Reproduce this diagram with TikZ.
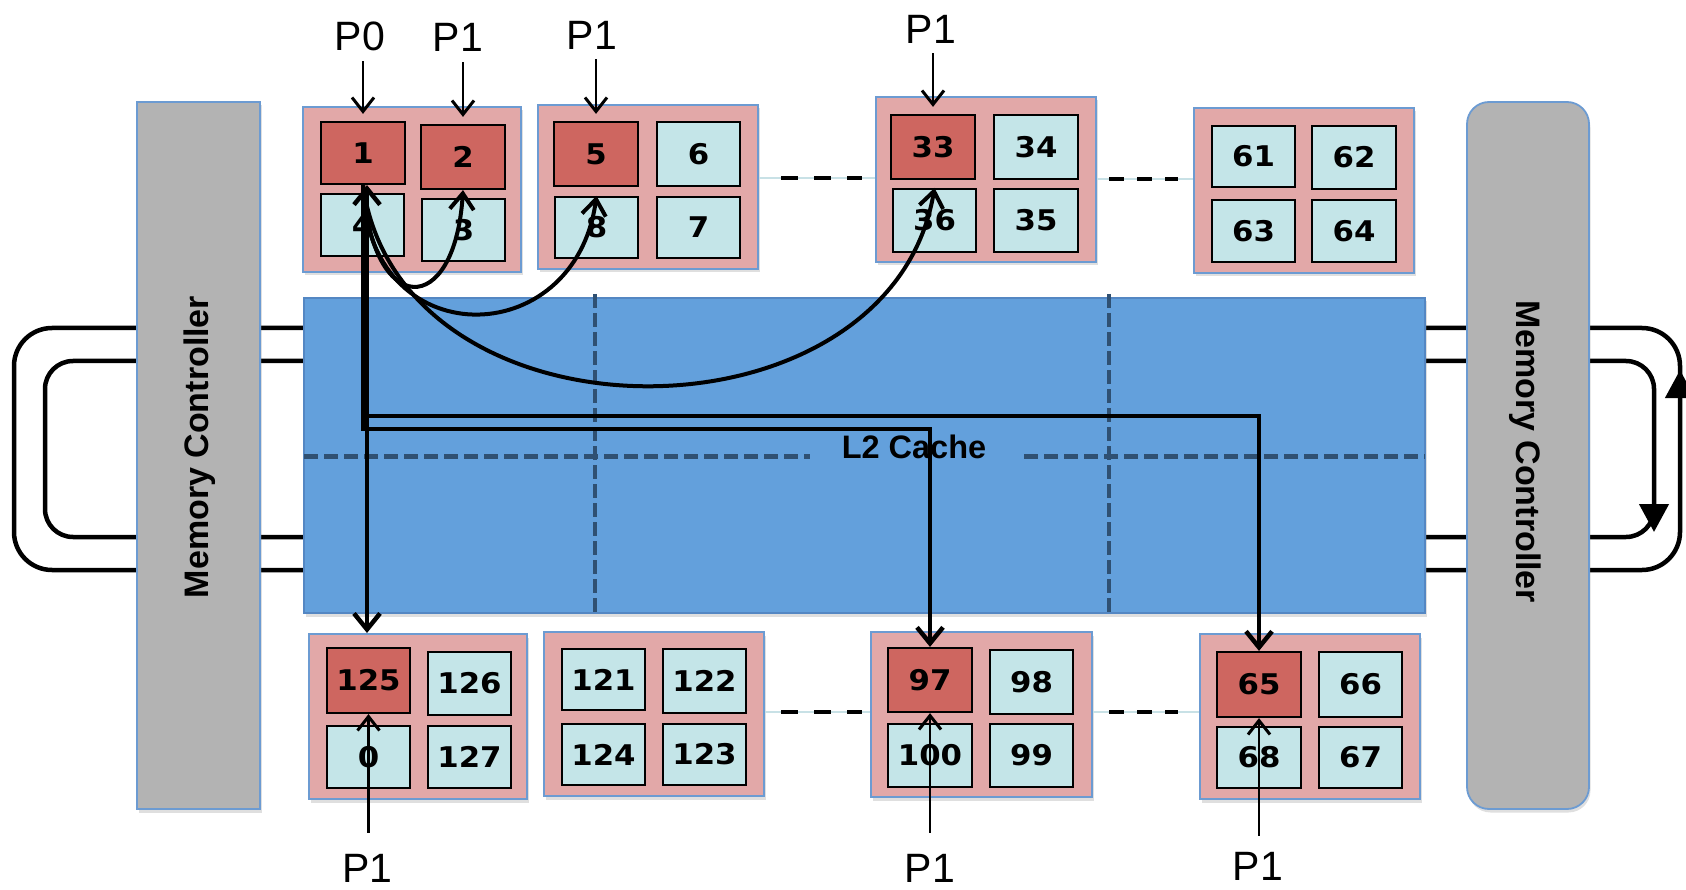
\documentclass[tikz,border=0pt]{standalone}
\usepackage{fontspec}
\setmainfont{Liberation Sans}
\newfontfamily\numfont{DejaVu Sans}[FakeStretch=1.08]
\usetikzlibrary{arrows.meta,shadows,calc}

\definecolor{l2blue}{RGB}{99,160,220}
\definecolor{l2edge}{RGB}{84,135,195}
\definecolor{gridline}{RGB}{47,80,114}
\definecolor{tilepink}{RGB}{226,168,168}
\definecolor{tileedge}{RGB}{108,155,210}
\definecolor{cellred}{RGB}{206,102,96}
\definecolor{cellcyan}{RGB}{196,229,232}
\definecolor{mcgray}{RGB}{179,179,179}
\definecolor{faint}{RGB}{200,225,230}

\tikzset{
  ring/.style={line width=4.5pt, draw=black},
  ringtip/.style={line width=4.5pt, -{Triangle[length=28pt,width=29pt]}},
  boxshadow/.style={drop shadow={opacity=0.25, shadow xshift=1.5pt, shadow yshift=-3.5pt}},
  mcbox/.style={draw=tileedge, line width=1.8pt, fill=mcgray, inner sep=0pt, boxshadow},
  mctext/.style={inner sep=0pt, font=\bfseries\fontsize{34}{40}\selectfont},
  l2box/.style={draw=l2edge, line width=1.5pt, fill=l2blue, inner sep=0pt, boxshadow},
  gridv/.style={draw=gridline, line width=3.5pt, dash pattern=on 14pt off 5pt},
  gridh/.style={draw=gridline, line width=5pt, dash pattern=on 14pt off 6pt},
  tile/.style={draw=tileedge, line width=2pt, fill=tilepink, inner sep=0pt, boxshadow},
  cellbase/.style={draw=black, line width=2.2pt, inner sep=0pt,
    font=\numfont\bfseries\fontsize{28.5}{31}\selectfont},
  hot/.style={cellbase, fill=cellred},
  cold/.style={cellbase, fill=cellcyan},
  plabel/.style={inner sep=0pt, font=\fontsize{41}{48}\selectfont},
  parrow/.style={line width=2.2pt, -{Straight Barb[length=14pt,width=22pt,line width=3pt]}},
  link/.style={line width=4.5pt, -{Straight Barb[length=16pt,width=26pt]}},
  bilink/.style={line width=4.5pt, {Straight Barb[length=16pt,width=26pt]}-{Straight Barb[length=16pt,width=26pt]}},
  curvelink/.style={line width=4pt, -{Straight Barb[length=16pt,width=24pt]}},
  dashlinkA/.style={line width=4pt, dash pattern=on 17pt off 16pt},
  dashlinkB/.style={line width=4pt, dash pattern=on 15pt off 13pt},
  faintlink/.style={line width=1.2pt, draw=faint},
}

\begin{document}
\begin{tikzpicture}[x=1pt,y=-1pt]
\useasboundingbox (0,0) rectangle (1686,890);

% ring buses running behind the controllers and the cache
\draw[ring, rounded corners=38pt] (14,328) rectangle (1680,570);
\draw[ring, rounded corners=28pt] (45,361) rectangle (1654,537);
\draw[ringtip] (1654,470) -- (1654,532);
\draw[ringtip] (1680,440) -- (1680,370);

% memory controllers
\node[mcbox, minimum width=123pt, minimum height=707pt] (mcl) at (198.5,455.5) {};
\node[mctext, rotate=90] (mcltxt) at (200,447) {Memory Controller};
\node[mcbox, rounded corners=22pt, minimum width=122pt, minimum height=707pt] (mcr) at (1528,455.5) {};
\node[mctext, rotate=-90] (mcrtxt) at (1525,452) {Memory Controller};

% shared L2 cache with its slice grid
\node[l2box, minimum width=1121pt, minimum height=315pt] (l2) at (864.5,455.5) {};
\draw[gridv] (595,294) -- (595,614);
\draw[gridv] (1109,294) -- (1109,614);
\draw[gridh] (304,456) -- (810,456);
\draw[gridh] (1024,456) -- (1425,456);
\node[inner sep=0pt, font=\bfseries\fontsize{32.5}{36}\selectfont] (l2lbl) at (914,447) {L2 Cache};

% top row of tiles
\node[tile, minimum width=218pt, minimum height=165pt] (t1) at (412,189.5) {};
\node[hot,  minimum width=84pt, minimum height=62pt] (c1) at (363,153) {1};
\node[hot,  minimum width=84pt, minimum height=64pt] (c2) at (463,157) {2};
\node[cold, minimum width=83pt, minimum height=62pt] (c4) at (362.5,225) {4};
\node[cold, minimum width=83pt, minimum height=62pt] (c3) at (463.5,230) {3};

\node[tile, minimum width=220pt, minimum height=164pt] (t5) at (648,187) {};
\node[hot,  minimum width=84pt, minimum height=64pt] (c5) at (596,154) {5};
\node[cold, minimum width=83pt, minimum height=64pt] (c6) at (698.5,154) {6};
\node[cold, minimum width=83pt, minimum height=61pt] (c8) at (596.5,227.5) {8};
\node[cold, minimum width=83pt, minimum height=61pt] (c7) at (698.5,227.5) {7};

\node[tile, minimum width=220pt, minimum height=165pt] (t33) at (986,179.5) {};
\node[hot,  minimum width=84pt, minimum height=64pt] (c33) at (933,147) {33};
\node[cold, minimum width=84pt, minimum height=64pt] (c34) at (1036,147) {34};
\node[cold, minimum width=83pt, minimum height=63pt] (c36) at (934.5,220.5) {36};
\node[cold, minimum width=84pt, minimum height=63pt] (c35) at (1036,220.5) {35};

\node[tile, minimum width=220pt, minimum height=165pt] (t61) at (1304,190.5) {};
\node[cold, minimum width=83pt, minimum height=61pt] (c61) at (1253.5,156.5) {61};
\node[cold, minimum width=84pt, minimum height=63pt] (c62) at (1354,157.5) {62};
\node[cold, minimum width=83pt, minimum height=62pt] (c63) at (1253.5,231) {63};
\node[cold, minimum width=84pt, minimum height=62pt] (c64) at (1354,231) {64};

% bottom row of tiles
\node[tile, minimum width=218pt, minimum height=165pt] (t125) at (418,716.5) {};
\node[hot,  minimum width=83pt, minimum height=65pt] (c125) at (368.5,680.5) {125};
\node[cold, minimum width=83pt, minimum height=63pt] (c126) at (469.5,683.5) {126};
\node[cold, minimum width=83pt, minimum height=62pt] (c0) at (368.5,757) {0};
\node[cold, minimum width=83pt, minimum height=62pt] (c127) at (469.5,757) {127};

\node[tile, minimum width=220pt, minimum height=164pt] (t121) at (654,714) {};
\node[cold, minimum width=83pt, minimum height=61pt] (c121) at (603.5,679.5) {121};
\node[cold, minimum width=83pt, minimum height=64pt] (c122) at (704.5,681) {122};
\node[cold, minimum width=83pt, minimum height=61pt] (c124) at (603.5,754.5) {124};
\node[cold, minimum width=83pt, minimum height=61pt] (c123) at (704.5,754.5) {123};

\node[tile, minimum width=221pt, minimum height=165pt] (t97) at (981.5,714.5) {};
\node[hot,  minimum width=84pt, minimum height=64pt] (c97) at (930,680) {97};
\node[cold, minimum width=83pt, minimum height=64pt] (c98) at (1031.5,682) {98};
\node[cold, minimum width=84pt, minimum height=63pt] (c100) at (930,755.5) {100};
\node[cold, minimum width=83pt, minimum height=63pt] (c99) at (1031.5,755.5) {99};

\node[tile, minimum width=220pt, minimum height=165pt] (t65) at (1310,716.5) {};
\node[hot,  minimum width=84pt, minimum height=65pt] (c65) at (1259,684.5) {65};
\node[cold, minimum width=83pt, minimum height=65pt] (c66) at (1360.5,684.5) {66};
\node[cold, minimum width=84pt, minimum height=61pt] (c68) at (1259,757.5) {68};
\node[cold, minimum width=83pt, minimum height=61pt] (c67) at (1360.5,757.5) {67};

% ellipsis links between tiles
\draw[faintlink] (t5.east |- 0,178) -- (t33.west |- 0,178);
\draw[dashlinkA, shorten <=22pt, shorten >=13pt] (t5.east |- 0,178) -- (t33.west |- 0,178);
\draw[faintlink] (t33.east |- 0,179) -- (t61.west |- 0,179);
\draw[dashlinkB, shorten <=12pt, shorten >=15pt] (t33.east |- 0,179) -- (t61.west |- 0,179);
\draw[faintlink] (t121.east |- 0,712) -- (t97.west |- 0,712);
\draw[dashlinkA, shorten <=16pt, shorten >=8pt] (t121.east |- 0,712) -- (t97.west |- 0,712);
\draw[faintlink] (t97.east |- 0,712) -- (t65.west |- 0,712);
\draw[dashlinkB, shorten <=16pt, shorten >=21pt] (t97.east |- 0,712) -- (t65.west |- 0,712);

% sharing paths from block 1
\draw[curvelink] (c1.south) .. controls +(9,134) and +(-8,129) .. (c2.south);
\draw[curvelink] (c1.south) .. controls +(3,171) and +(-21.5,158) .. (c8.north);
\draw[curvelink] (c1.south) .. controls +(37,268) and +(-44.5,263) .. (c36.north);
\draw[bilink] ($(c1.south)+(4,0)$) -- ($(c1.south |- t125.north)+(4,0)$);
\draw[link] (c1.south) -- ++(0,244) -| (c97.north);
\draw[link] (c1.south) -- ++(0,231) -| (c65.north);

% processor labels
\node[plabel] (p0) at (360,36.5) {P0};
\node[plabel] (p1a) at (458,37.8) {P1};
\node[plabel] (p1b) at (592,35) {P1};
\node[plabel] (p1c) at (931,29) {P1};
\node[plabel] (p1d) at (367.5,868) {P1};
\node[plabel] (p1e) at (930,868) {P1};
\node[plabel] (p1f) at (1258,866) {P1};

\draw[parrow, shorten <=10pt, shorten >=7pt] (c1.north |- p0.south) -- (c1.north);
\draw[parrow, shorten <=10pt, shorten >=7pt] (c2.north |- p1a.south) -- (c2.north);
\draw[parrow, shorten <=10pt, shorten >=7pt] (c5.north |- p1b.south) -- (c5.north);
\draw[parrow, shorten <=10pt, shorten >=7pt] (c33.north |- p1c.south) -- (c33.north);
\draw[parrow, shorten <=21pt] (c125.south |- p1d.north) -- (c125.south);
\draw[parrow, shorten <=21pt] (c97.south |- p1e.north) -- (c97.south);
\draw[parrow, shorten <=16pt] (c65.south |- p1f.north) -- (c65.south);
\end{tikzpicture}
\end{document}
